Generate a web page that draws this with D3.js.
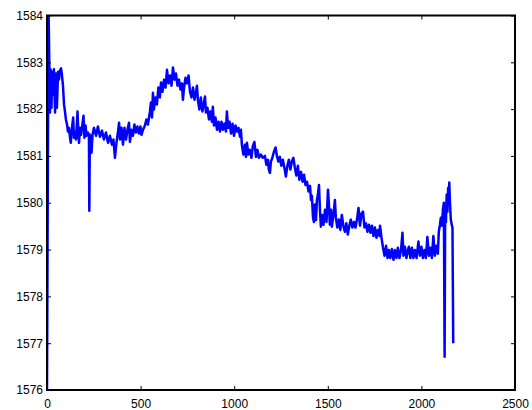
<!DOCTYPE html>
<html>
<head>
<meta charset="utf-8">
<script src="https://cdn.jsdelivr.net/npm/d3@7"></script>
<style>
  body { margin: 0; background: #fff; }
  .axis text { font-family: "Liberation Sans", Arial, sans-serif; font-size: 12px; fill: #000; }
  .axis line { stroke: #000; stroke-width: 1; }
  .axis .domain { display: none; }
</style>
</head>
<body>
<div class="chart"></div>
<script>

// === === DATA === ===
// sample index
const sampleX = [
  0, 8, 16, 19, 24, 27, 32, 37, 43, 48, 53, 59, 64, 69, 75, 80, 85, 91, 96, 101,
  107, 112, 117, 123, 127, 131, 140, 144, 152, 155, 163, 168, 171, 176, 182, 187, 195, 200, 206, 211,
  219, 224, 226, 229, 232, 238, 243, 251, 262, 272, 283, 294, 304, 315, 326, 336, 347, 355, 363, 371,
  379, 385, 390, 398, 406, 414, 422, 430, 438, 443, 451, 459, 467, 475, 483, 491, 499, 505, 513, 523,
  531, 539, 550, 555, 561, 566, 571, 579, 587, 595, 603, 609, 617, 625, 633, 641, 649, 657, 665, 673,
  681, 689, 697, 705, 713, 721, 726, 732, 740, 748, 756, 764, 772, 780, 788, 796, 801, 806, 814, 822,
  830, 838, 844, 849, 857, 865, 873, 881, 886, 892, 900, 908, 916, 924, 932, 940, 948, 956, 961, 967,
  975, 983, 991, 999, 1007, 1015, 1023, 1031, 1036, 1041, 1049, 1057, 1063, 1068, 1076, 1084, 1092, 1100, 1108, 1116,
  1124, 1132, 1143, 1153, 1164, 1172, 1180, 1185, 1191, 1196, 1204, 1212, 1221, 1228, 1236, 1244, 1252, 1260, 1268, 1276,
  1284, 1292, 1300, 1308, 1316, 1324, 1332, 1340, 1348, 1357, 1365, 1373, 1381, 1389, 1397, 1405, 1410, 1415, 1421, 1426,
  1431, 1437, 1442, 1447, 1453, 1458, 1463, 1469, 1477, 1485, 1493, 1501, 1506, 1511, 1517, 1522, 1530, 1538, 1543, 1551,
  1559, 1567, 1575, 1583, 1591, 1599, 1607, 1615, 1623, 1631, 1640, 1648, 1656, 1664, 1672, 1680, 1688, 1696, 1704, 1712,
  1720, 1728, 1736, 1744, 1752, 1760, 1768, 1776, 1779, 1787, 1795, 1803, 1811, 1819, 1826, 1834, 1842, 1851, 1858, 1867,
  1874, 1883, 1891, 1899, 1904, 1912, 1920, 1928, 1933, 1941, 1949, 1957, 1965, 1974, 1984, 1992, 2000, 2008, 2016, 2024,
  2032, 2040, 2048, 2056, 2064, 2072, 2080, 2088, 2093, 2099, 2104, 2109, 2115, 2120, 2124, 2127, 2131, 2135, 2139, 2143,
  2147, 2149, 2152, 2157, 2163, 2166, 2170
];

// measured value for each sample
const sampleY = [
  1576.00, 1584.20, 1581.93, 1582.85, 1582.03, 1582.80, 1582.31, 1582.85, 1581.93, 1582.76, 1582.03, 1582.80, 1582.63, 1582.82, 1582.87, 1582.72, 1582.52, 1582.10, 1581.95, 1581.78,
  1581.67, 1581.52, 1581.60, 1581.39, 1581.28, 1581.52, 1581.82, 1581.39, 1581.52, 1581.35, 1581.95, 1581.45, 1581.28, 1581.60, 1581.45, 1581.60, 1581.86, 1581.39, 1581.65, 1581.43,
  1581.50, 1581.43, 1579.83, 1581.45, 1581.13, 1581.07, 1581.45, 1581.60, 1581.43, 1581.63, 1581.41, 1581.54, 1581.35, 1581.50, 1581.28, 1581.43, 1581.24, 1581.35, 1580.96, 1581.28,
  1581.50, 1581.71, 1581.35, 1581.60, 1581.24, 1581.60, 1581.35, 1581.56, 1581.71, 1581.30, 1581.56, 1581.43, 1581.67, 1581.50, 1581.63, 1581.48, 1581.63, 1581.45, 1581.56, 1581.65,
  1581.78, 1581.67, 1581.95, 1582.14, 1581.82, 1582.35, 1581.99, 1582.25, 1582.10, 1582.46, 1582.25, 1582.57, 1582.37, 1582.63, 1582.46, 1582.84, 1582.55, 1582.72, 1582.50, 1582.89,
  1582.63, 1582.76, 1582.50, 1582.63, 1582.42, 1582.55, 1582.20, 1582.46, 1582.67, 1582.55, 1582.72, 1582.37, 1582.25, 1582.46, 1582.20, 1582.37, 1582.50, 1582.20, 1581.99, 1582.25,
  1581.95, 1582.12, 1582.27, 1581.93, 1582.03, 1581.78, 1581.95, 1581.73, 1582.05, 1581.65, 1581.82, 1581.56, 1581.73, 1581.52, 1581.73, 1581.56, 1581.69, 1581.52, 1581.95, 1581.60,
  1581.73, 1581.48, 1581.69, 1581.43, 1581.65, 1581.52, 1581.60, 1581.41, 1581.56, 1581.24, 1581.03, 1581.24, 1580.98, 1581.28, 1581.03, 1581.13, 1580.96, 1581.22, 1581.30, 1580.98,
  1581.13, 1580.96, 1581.03, 1580.96, 1581.00, 1580.81, 1580.92, 1580.71, 1580.64, 1580.88, 1580.96, 1581.09, 1581.18, 1581.00, 1580.88, 1580.98, 1580.79, 1580.92, 1580.75, 1580.56,
  1580.79, 1580.92, 1580.71, 1580.88, 1580.96, 1580.75, 1580.58, 1580.79, 1580.49, 1580.66, 1580.45, 1580.60, 1580.38, 1580.45, 1580.24, 1580.36, 1580.06, 1580.15, 1579.68, 1579.59,
  1579.96, 1579.63, 1580.06, 1580.17, 1580.38, 1579.85, 1579.49, 1579.74, 1579.53, 1579.85, 1579.59, 1580.28, 1579.96, 1579.53, 1579.85, 1579.49, 1579.74, 1580.06, 1579.68, 1579.47,
  1579.64, 1579.42, 1579.74, 1579.51, 1579.38, 1579.56, 1579.32, 1579.51, 1579.64, 1579.47, 1579.59, 1579.47, 1579.64, 1579.89, 1579.51, 1579.77, 1579.81, 1579.47, 1579.56, 1579.38,
  1579.53, 1579.36, 1579.51, 1579.29, 1579.47, 1579.25, 1579.42, 1579.29, 1579.51, 1579.25, 1579.04, 1578.87, 1579.08, 1578.82, 1578.99, 1578.82, 1579.01, 1578.78, 1578.99, 1578.82,
  1579.04, 1578.82, 1578.99, 1579.36, 1578.87, 1579.06, 1578.82, 1578.99, 1579.06, 1578.82, 1579.04, 1578.82, 1578.99, 1578.82, 1579.17, 1578.87, 1579.06, 1578.82, 1578.99, 1578.82,
  1579.27, 1578.87, 1579.04, 1578.82, 1579.29, 1578.87, 1579.08, 1578.91, 1579.38, 1579.53, 1579.68, 1579.51, 1579.85, 1580.00, 1576.71, 1579.89, 1579.59, 1580.17, 1579.81, 1580.32,
  1579.96, 1580.43, 1580.06, 1579.64, 1579.51, 1579.47, 1577.00
];

// axis ticks
const xTicks = [0, 500, 1000, 1500, 2000, 2500];
const yTicks = [1576, 1577, 1578, 1579, 1580, 1581, 1582, 1583, 1584];

// === Margin Convention ===
const margin = {top: 15.5, right: 17, bottom: 20, left: 47};
const width = 532 - margin.left - margin.right,
      height = 410 - margin.top - margin.bottom;

// === SVG ===
const svg = d3.select(".chart").append("svg")
    .attr("width", width + margin.left + margin.right)
    .attr("height", height + margin.top + margin.bottom)
    .append("g")
    .attr("transform", "translate(" + margin.left + "," + margin.top + ")");

// === Scales ===
const xScale = d3.scaleLinear().domain([0, 2500]).range([0, width]);
const yScale = d3.scaleLinear().domain([1576, 1584]).range([height, 0]);

// === Clip ===
svg.append("clipPath").attr("id", "plot-clip")
    .append("rect").attr("width", width).attr("height", height);

// === Line ===
const points = sampleX.map((x, i) => [x, sampleY[i]]);
const line = d3.line()
    .x(d => xScale(d[0]))
    .y(d => yScale(d[1]));

svg.append("path")
    .datum(points)
    .attr("clip-path", "url(#plot-clip)")
    .attr("fill", "none")
    .attr("stroke", "#0000ff")
    .attr("stroke-width", 2.5)
    .attr("stroke-linejoin", "round")
    .attr("d", line);

// === Axes (ticks inward, matlab style) ===
const fmt = d3.format("d");

svg.append("g")
    .attr("class", "axis x-axis")
    .attr("transform", `translate(0, ${height})`)
    .call(d3.axisBottom(xScale).tickValues(xTicks).tickFormat(fmt)
        .tickSizeInner(-4).tickSizeOuter(0).tickPadding(9));

svg.append("g")
    .attr("class", "axis y-axis")
    .call(d3.axisLeft(yScale).tickValues(yTicks).tickFormat(fmt)
        .tickSizeInner(-4).tickSizeOuter(0).tickPadding(4));

svg.append("g")
    .attr("class", "axis")
    .call(d3.axisTop(xScale).tickValues(xTicks).tickSizeInner(-4).tickSizeOuter(0).tickFormat(""));

svg.append("g")
    .attr("class", "axis")
    .attr("transform", `translate(${width}, 0)`)
    .call(d3.axisRight(yScale).tickValues(yTicks).tickSizeInner(-4).tickSizeOuter(0).tickFormat(""));

// === Box ===
svg.append("rect")
    .attr("width", width)
    .attr("height", height)
    .attr("fill", "none")
    .attr("stroke", "#000")
    .attr("stroke-width", 2);

</script>
</body>
</html>
